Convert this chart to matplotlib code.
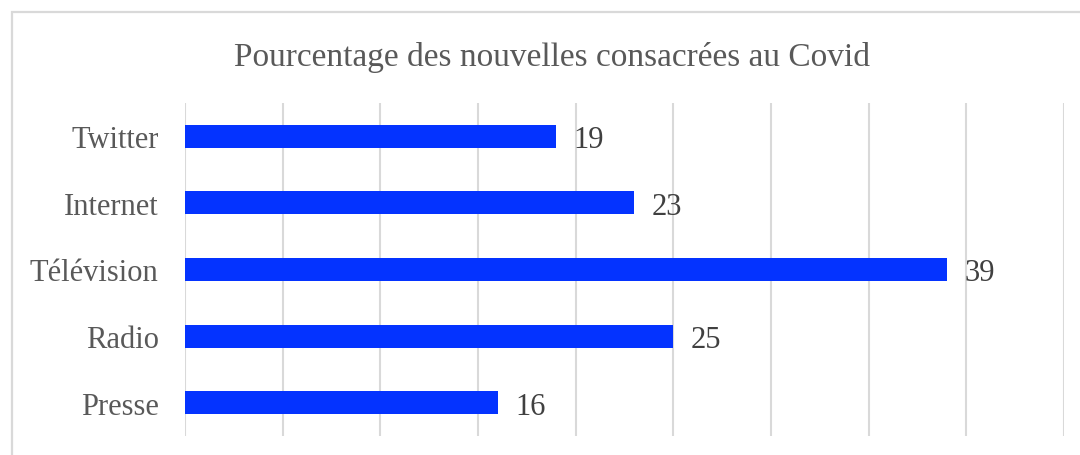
import matplotlib
matplotlib.use("Agg")
import matplotlib.pyplot as plt
from matplotlib.patches import Rectangle

categories = ["Presse", "Radio", "Télévision", "Internet", "Twitter"]
values = [16, 25, 39, 23, 19]
title = "Pourcentage des nouvelles consacrées au Covid"

W, H = 1080, 456
fig = plt.figure(figsize=(W / 100, H / 100), dpi=100)
fig.patch.set_facecolor("white")

# outer chart border
fig.patches.append(Rectangle((11.5 / W, -0.05), 1.2, 1 - 12.5 / H + 0.05,
                             transform=fig.transFigure, fill=False,
                             edgecolor="#d9d9d9", linewidth=1.6))

ax = fig.add_axes([185 / W, (H - 437) / H, (1064 - 185) / W, (437 - 104) / H])
y = range(len(categories))
ax.barh(list(y), values, height=0.345, color="#0433FF", zorder=3)
ax.set_xlim(0, 45)
ax.set_ylim(-0.5, len(categories) - 0.5)
ax.set_xticks(range(0, 46, 5))
ax.grid(axis="x", color="#d9d9d9", linewidth=1.5, zorder=0)
ax.tick_params(axis="x", length=0, labelbottom=False)
ax.tick_params(axis="y", length=0, pad=19)
ax.set_yticks(list(y))
font = "Liberation Serif"
ax.set_yticklabels(categories, fontsize=22, color="#595959", family=font)
for lbl in ax.get_yticklabels():
    lbl.set_verticalalignment("center_baseline")
for s in ax.spines.values():
    s.set_visible(False)

for i, v in enumerate(values):
    ax.text(v + 0.9, i, str(v), va="center_baseline", ha="left", fontsize=22,
            color="#404040", family=font)

fig.text((232 + 872) / 2 / W, 1 - 54 / H, title, ha="center", va="center_baseline",
         fontsize=24, color="#595959", family=font)

fig.savefig("out.png", dpi=100)
